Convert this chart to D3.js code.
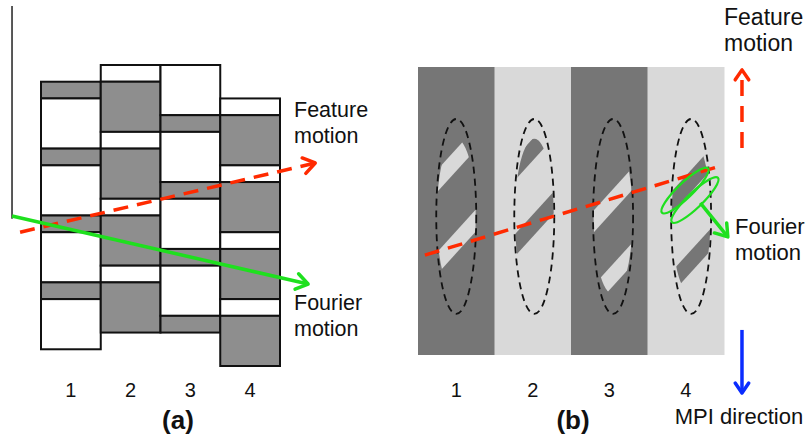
<!DOCTYPE html>
<html>
<head>
<meta charset="utf-8">
<script src="https://cdn.jsdelivr.net/npm/d3@7"></script>
<style>
body { margin: 0; background: #fff; }
svg { display: block; }
text { font-family: "Liberation Sans", Arial, sans-serif; fill: #111; }
</style>
</head>
<body>
<svg width="808" height="436"></svg>
<script>
const columns = ['1', '2', '3', '4'];

// panel (a): one letter per row unit, g = gray, w = white, - = nothing
const aRows = ['-gwwwgwwwgwwwgwww', 'wgggwgggwgggwggg', 'wwwgwwwgwwwgwwwg', '--wgggwgggwgggwggg'];
// arrows of panel (a), as [column, row unit]
const featureA = [[-0.35, 10], [4.59, 5.86]];
const fourierA = [[-0.485, 9.03], [4.47, 13.1]];
const axisA = [[-0.485, -3.53], [-0.485, 9.2]];

// panel (b): background shade, stripe centres (% of panel height), window positions
const bShade = ['dark', 'light', 'dark', 'light'];
const stripeCenters = [[32.3, 60.8], [28.1, 54.5], [46.2, 72.2], [39.6, 67.4]];
const windowCol = [0.5, 1.52, 2.55, 3.57];
const windowCenter = 51.9, windowHalf = 33.85, apertureHalf = 27;
const featureB = [[0.09, 65.3], [3.91, 34.7]];
const fourierB = [[3.69, 47.2], [4.05, 59.0]];
const fourierRings = [[3.49, 42.9], [3.62, 46.2]];
const featureDir = [[4.235, 28.1], [4.235, 1.0]];
const mpiDir = [[4.235, 91.3], [4.235, 113.2]];

const RED = '#ff2a00', GREEN = '#1ee01e', BLUE = '#0a2cff';
const svg = d3.select('svg');

// ---------- panel (a)
const xA = d3.scaleLinear().domain([0, 4]).range([41, 280]);
const yA = d3.scaleLinear().domain([0, 18]).range([65, 366]);
const bandA = d3.scaleBand().domain(columns).range([41, 280]);

function runs(s) {
  const out = [];
  for (let i = 0; i < s.length; i++) {
    if (s[i] === '-') continue;
    const last = out[out.length - 1];
    if (last && last.k === s[i] && last.end === i) last.end = i + 1;
    else out.push({k: s[i], start: i, end: i + 1});
  }
  return out;
}

const gA = svg.append('g');
columns.forEach((c, i) => {
  gA.selectAll(null)
    .data(runs(aRows[i]))
    .join('rect')
    .attr('x', bandA(c))
    .attr('width', bandA.bandwidth())
    .attr('y', d => yA(d.start))
    .attr('height', d => yA(d.end) - yA(d.start))
    .attr('fill', d => d.k === 'g' ? '#8e8e8e' : '#fff')
    .attr('stroke', '#111')
    .attr('stroke-width', 2);
});

gA.append('line')
  .attr('x1', xA(axisA[0][0])).attr('y1', yA(axisA[0][1]))
  .attr('x2', xA(axisA[1][0])).attr('y2', yA(axisA[1][1]))
  .attr('stroke', '#222').attr('stroke-width', 1.5);

function arrow(g, p1, p2, color, width, dash, head) {
  const [x1, y1] = p1, [x2, y2] = p2;
  g.append('line')
    .attr('x1', x1).attr('y1', y1).attr('x2', x2).attr('y2', y2)
    .attr('stroke', color).attr('stroke-width', width)
    .attr('stroke-dasharray', dash);
  if (!head) return;
  const a = Math.atan2(y2 - y1, x2 - x1), L = head, f = 0.6;
  g.append('path')
    .attr('d', `M${x2 - L * Math.cos(a - f)},${y2 - L * Math.sin(a - f)}L${x2},${y2}L${x2 - L * Math.cos(a + f)},${y2 - L * Math.sin(a + f)}`)
    .attr('fill', 'none').attr('stroke', color).attr('stroke-width', width)
    .attr('stroke-linecap', 'round').attr('stroke-linejoin', 'round');
}
const pA = d => [xA(d[0]), yA(d[1])];
arrow(gA, pA(featureA[0]), pA(featureA[1]), RED, 3.5, '15,9', 14);
arrow(gA, pA(fourierA[0]), pA(fourierA[1]), GREEN, 3.5, null, 14);

gA.selectAll('text.num')
  .data(columns)
  .join('text')
  .attr('class', 'num')
  .attr('x', d => bandA(d) + bandA.bandwidth() / 2)
  .attr('y', 397)
  .attr('text-anchor', 'middle')
  .style('font-size', '20px')
  .text(d => d);

function label(g, lines, x, y, size, anchor) {
  g.selectAll(null).data(lines).join('text')
    .attr('x', x).attr('y', (d, i) => y + i * 26)
    .attr('text-anchor', anchor || 'start')
    .style('font-size', size + 'px')
    .text(d => d);
}
label(gA, ['Feature', 'motion'], 294, 117, 21.5);
label(gA, ['Fourier', 'motion'], 294, 310, 21.5);
gA.append('text').attr('x', 178).attr('y', 429).attr('text-anchor', 'middle')
  .style('font-size', '26px').style('font-weight', 'bold').text('(a)');

// ---------- panel (b)
const xB = d3.scaleLinear().domain([0, 4]).range([418, 724]);
const yB = d3.scaleLinear().domain([0, 100]).range([67, 355]);
const bandB = d3.scaleBand().domain(columns).range([418, 724]);
const DARK = '#767676', LIGHT = '#d9d9d9';

const gB = svg.append('g');
gB.selectAll('rect.bg')
  .data(columns)
  .join('rect')
  .attr('class', 'bg')
  .attr('x', d => bandB(d))
  .attr('width', bandB.bandwidth() + 0.5)
  .attr('y', yB(0))
  .attr('height', yB(100) - yB(0))
  .attr('fill', (d, i) => bShade[i] === 'dark' ? DARK : LIGHT);

const defs = svg.append('defs');
defs.append('filter').attr('id', 'soft')
  .append('feGaussianBlur').attr('stdDeviation', 0.7);

const slope = -1.1, thick = 22;
columns.forEach((c, i) => {
  const cx = xB(windowCol[i]), cy = yB(windowCenter);
  const ry = yB(windowCenter + windowHalf) - cy;
  defs.append('clipPath').attr('id', 'win' + i)
    .append('ellipse').attr('cx', cx).attr('cy', cy).attr('rx', 19.5)
    .attr('ry', yB(windowCenter + apertureHalf) - cy);
  gB.append('g').attr('clip-path', `url(#win${i})`)
    .selectAll('path')
    .data(stripeCenters[i])
    .join('path')
    .attr('d', d => {
      const yc = yB(d), w = 30;
      return `M${cx - w},${yc - slope * w - thick / 2}L${cx + w},${yc + slope * w - thick / 2}` +
             `L${cx + w},${yc + slope * w + thick / 2}L${cx - w},${yc - slope * w + thick / 2}Z`;
    })
    .attr('fill', bShade[i] === 'dark' ? LIGHT : DARK)
    .attr('filter', 'url(#soft)');
  gB.append('ellipse')
    .attr('cx', cx).attr('cy', cy).attr('rx', 20).attr('ry', ry)
    .attr('fill', 'none').attr('stroke', '#111')
    .attr('stroke-width', 1.8).attr('stroke-dasharray', '7,5');
});

const pB = d => [xB(d[0]), yB(d[1])];
arrow(gB, pB(featureB[0]), pB(featureB[1]), RED, 3.5, '15,9', 0);

gB.selectAll('ellipse.ring')
  .data(fourierRings)
  .join('ellipse')
  .attr('class', 'ring')
  .attr('transform', d => `translate(${xB(d[0])},${yB(d[1])}) rotate(-44)`)
  .attr('rx', 32).attr('ry', 7.5)
  .attr('fill', 'none').attr('stroke', GREEN).attr('stroke-width', 2.2);
arrow(gB, pB(fourierB[0]), pB(fourierB[1]), GREEN, 3.5, null, 14);

arrow(gB, pB(featureDir[0]), pB(featureDir[1]), RED, 3.5, '16,10', 12);
arrow(gB, pB(mpiDir[0]), pB(mpiDir[1]), BLUE, 3.5, null, 12);

gB.selectAll('text.num')
  .data(columns)
  .join('text')
  .attr('class', 'num')
  .attr('x', d => bandB(d) + bandB.bandwidth() / 2)
  .attr('y', 397)
  .attr('text-anchor', 'middle')
  .style('font-size', '20px')
  .text(d => d);

label(gB, ['Feature', 'motion'], 724, 25, 23);
label(gB, ['Fourier', 'motion'], 735, 234, 22);
label(gB, ['MPI direction'], 739, 424, 22, 'middle');
gB.append('text').attr('x', 573).attr('y', 429).attr('text-anchor', 'middle')
  .style('font-size', '26px').style('font-weight', 'bold').text('(b)');
</script>
</body>
</html>
